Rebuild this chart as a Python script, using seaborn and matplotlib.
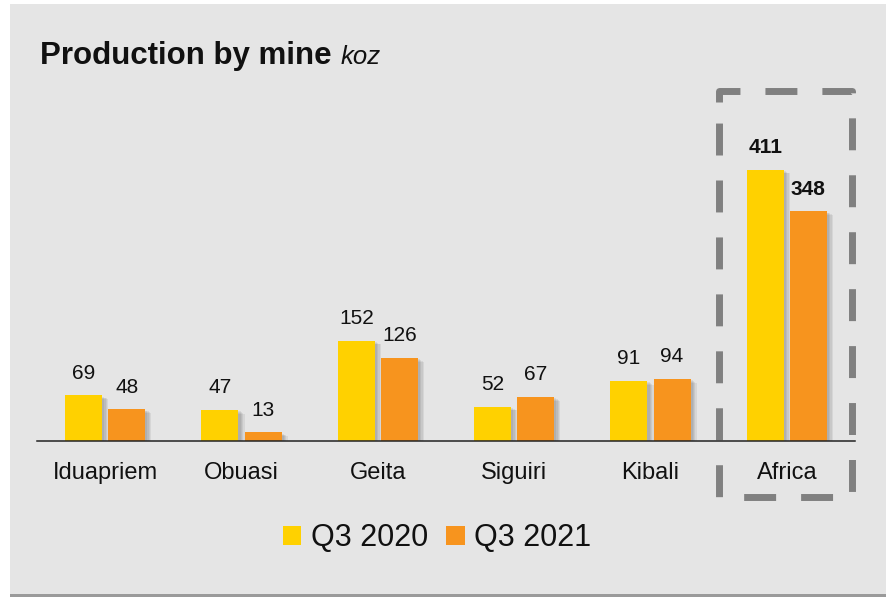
# plot.py
# Production by mine (koz), Q3 2020 vs Q3 2021, grouped bars with the Africa total boxed.

import pandas as pd
import matplotlib.pyplot as plt
import matplotlib.patheffects as pe
from matplotlib import font_manager
from matplotlib.patches import Rectangle
import seaborn as sns

mines = ['Iduapriem', 'Obuasi', 'Geita', 'Siguiri', 'Kibali', 'Africa']
q3_2020 = [69, 47, 152, 52, 91, 411]
q3_2021 = [48, 13, 126, 67, 94, 348]
periods = ['Q3 2020', 'Q3 2021']
colors = ['#FFD100', '#F7941E']


def pick_font(names):
    # first family that is really installed
    for name in names:
        try:
            font_manager.findfont(name, fallback_to_default=False)
            return name
        except Exception:
            continue
    return 'DejaVu Sans'


sns.set_theme(style='white')
font = pick_font(['Liberation Sans', 'Arimo', 'Arial', 'Roboto'])
plt.rcParams['font.family'] = [font, 'DejaVu Sans']

data = pd.DataFrame({
    'Mine': mines * 2,
    'Period': [periods[0]] * len(mines) + [periods[1]] * len(mines),
    'koz': q3_2020 + q3_2021,
})

fig = plt.figure(figsize=(8.87, 5.97), dpi=100, facecolor='white')

# grey panel with a soft shadow at the bottom
fig.patches.append(Rectangle((10 / 887, 0), 1, 3 / 597, transform=fig.transFigure,
                             facecolor='#9a9a9a', edgecolor='none', zorder=-2))
fig.patches.append(Rectangle((10 / 887, 3 / 597), 1, 590 / 597, transform=fig.transFigure,
                             facecolor='#e5e5e5', edgecolor='none', zorder=-1))

ax = fig.add_axes([37 / 887, (597 - 441) / 597, (855 - 37) / 887, (441 - 111) / 597])
ax.set_facecolor('none')
ax.set_zorder(1)

sns.barplot(data=data, x='Mine', y='koz', hue='Period', palette=colors,
            width=0.632, gap=0.14, saturation=1, ax=ax, legend=False,
            edgecolor='none', linewidth=0)

# soft drop shadow, built from a few faint offset copies
shadow = [pe.SimplePatchShadow(offset=(d, -d * 0.6), shadow_rgbFace='#404040', alpha=0.09)
          for d in (4.5, 3.5, 2.5, 1.5)]
for bar in ax.patches:
    bar.set_path_effects(shadow + [pe.Normal()])

# value labels
for container in ax.containers:
    for i, bar in enumerate(container):
        val = int(round(bar.get_height()))
        ax.annotate(str(val), (bar.get_x() + bar.get_width() / 2, bar.get_height()),
                    xytext=(0, 9), textcoords='offset points', ha='center', va='bottom',
                    fontsize=15, color='#111111',
                    fontweight='bold' if mines[i] == 'Africa' else 'normal')

ax.set_xlim(-0.5, 5.5)
ax.set_ylim(0, 500)
ax.set_xlabel('')
ax.set_ylabel('')
ax.set_yticks([])
ax.tick_params(axis='x', length=0, pad=15, labelsize=17, labelcolor='#111111')
for side in ['top', 'right', 'left']:
    ax.spines[side].set_visible(False)
ax.spines['bottom'].set_color('#222222')
ax.spines['bottom'].set_linewidth(1.1)

# dashed box around the Africa total, drawn clockwise starting just below the top-left corner
africa = mines.index('Africa')
x0, x1 = africa - 0.5, africa + 0.48
y0, y1 = -85, 530
ax.plot([x0, x0, x1, x1, x0, x0], [y1 - 16, y1, y1, y0, y0, y1 - 16], color='#808080',
        linewidth=5, linestyle=(0, (4.6, 3.6)), dash_capstyle='butt',
        solid_joinstyle='miter', clip_on=False, zorder=1)

# title
title = fig.text(40 / 887, 1 - 64 / 597, 'Production by mine ', fontsize=22.5, fontweight='bold',
                 color='#111111', va='baseline', ha='left')
fig.canvas.draw()
bb = title.get_window_extent()
fig.text(bb.x1 / 887, 1 - 64 / 597, 'koz', fontsize=18.5, fontstyle='italic',
         color='#111111', va='baseline', ha='left')

# legend
handles = [Rectangle((0, 0), 1, 1, facecolor=c, edgecolor='none') for c in colors]
fig.legend(handles, periods, loc='center', bbox_to_anchor=(437 / 887, 1 - 538 / 597),
           ncol=2, frameon=False, fontsize=22, handlelength=0.6, handleheight=0.6,
           handletextpad=0.3, columnspacing=0.6, labelcolor='#111111')

fig.savefig('out.png', dpi=100, facecolor='white')
